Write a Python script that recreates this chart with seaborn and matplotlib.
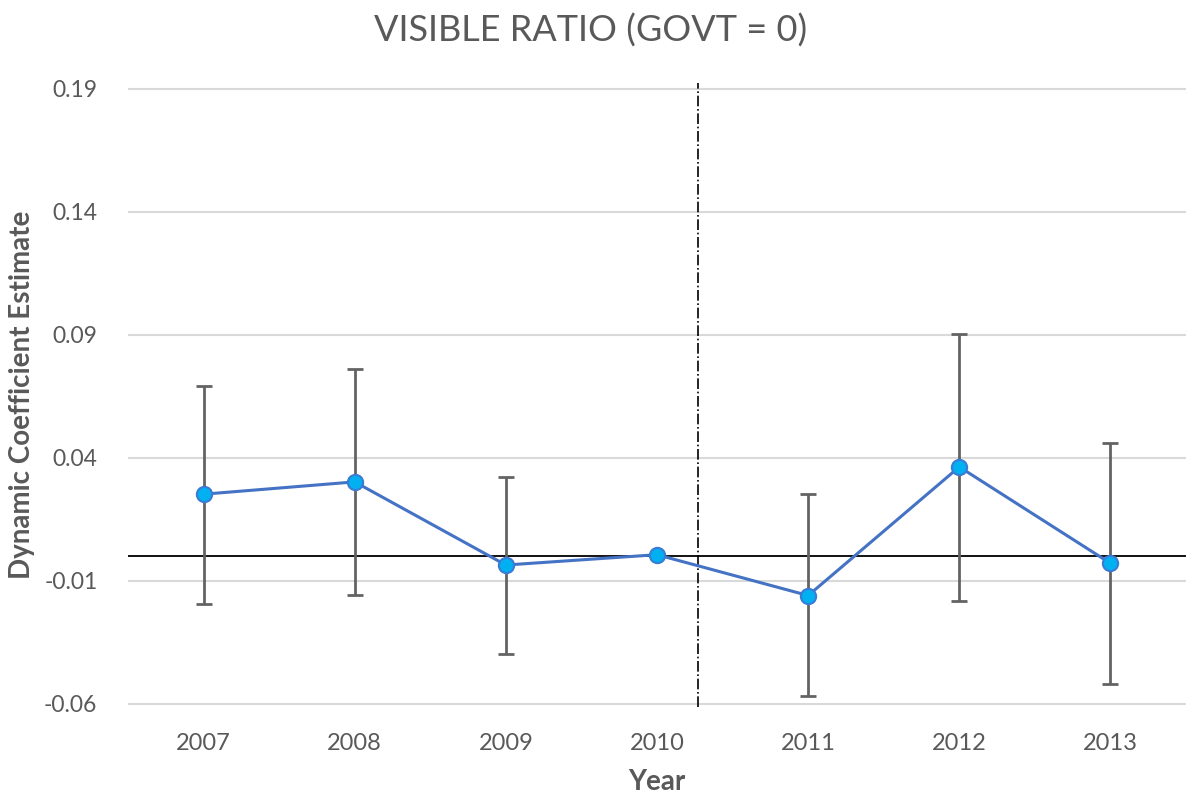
import matplotlib
matplotlib.use("Agg")
import matplotlib.pyplot as plt
import pandas as pd
import numpy as np
import seaborn as sns

# values
years = ["2007", "2008", "2009", "2010", "2011", "2012", "2013"]
coef = [0.0251, 0.0301, -0.0037, 0.0005, -0.0161, 0.0362, -0.0030]
upper = [0.0692, 0.0759, 0.0321, 0.0005, 0.0252, 0.0901, 0.0461]
lower = [-0.0194, -0.0160, -0.0398, 0.0005, -0.0570, -0.0182, -0.0522]
yticks = [-0.06, -0.01, 0.04, 0.09, 0.14, 0.19]
event_pos = 3.27  # dash-dot line between 2010 and 2011

df = pd.DataFrame({"year": years, "coef": coef, "upper": upper, "lower": lower})
df["pos"] = np.arange(len(df))

sns.set_theme(style="white")
plt.rcParams["font.family"] = ["Lato", "DejaVu Sans"]

grey = "#595959"
fig = plt.figure(figsize=(11.86, 7.98), dpi=100)
ax = fig.add_axes([128 / 1186, 1 - 706.7 / 798, 1 - 128 / 1186, (706.7 - 82.7) / 798])

ax.set_yticks(yticks)
ax.yaxis.grid(True, color="#D9D9D9", linewidth=1.5, zorder=0)
ax.axhline(0, color="black", linewidth=1.3, zorder=1)

yerr = [df["coef"] - df["lower"], df["upper"] - df["coef"]]
ax.errorbar(df["pos"], df["coef"], yerr=yerr, fmt="none", ecolor="#636363",
            elinewidth=2, capsize=6, capthick=2, zorder=2)

sns.lineplot(data=df, x="pos", y="coef", ax=ax, color="#4472C4", linewidth=2.2,
             marker="o", markersize=11, markerfacecolor="#00B0F0",
             markeredgecolor="#3A7BD5", markeredgewidth=1.5, zorder=3)

ax.axvline(event_pos, color="black", linewidth=1.2, linestyle="-.", zorder=2)

ax.set_xlim(-0.5, 6.5)
ax.set_ylim(-0.0613, 0.1924)
ax.set_xticks(df["pos"])
ax.set_xticklabels(years)
ax.set_yticklabels([f"{t:.2f}" for t in yticks])
ax.tick_params(axis="both", length=0, labelcolor=grey)
ax.tick_params(axis="y", pad=22, labelsize=16.5)
ax.tick_params(axis="x", pad=19, labelsize=17)
for s in ax.spines.values():
    s.set_visible(False)

ax.set_xlabel("Year", fontsize=20, fontweight="bold", color=grey)
ax.xaxis.set_label_coords(0.5, -0.121)
ax.xaxis.label.set_va("center")
ax.set_ylabel("Dynamic Coefficient Estimate", fontsize=20, fontweight="bold", color=grey)
ax.yaxis.set_label_coords(-0.100, 0.5)
ax.yaxis.label.set_va("center")
fig.text(0.498, 0.962, "VISIBLE RATIO (GOVT = 0)", ha="center", va="center",
         fontsize=26, color=grey)

fig.savefig("out.png", dpi=100)
